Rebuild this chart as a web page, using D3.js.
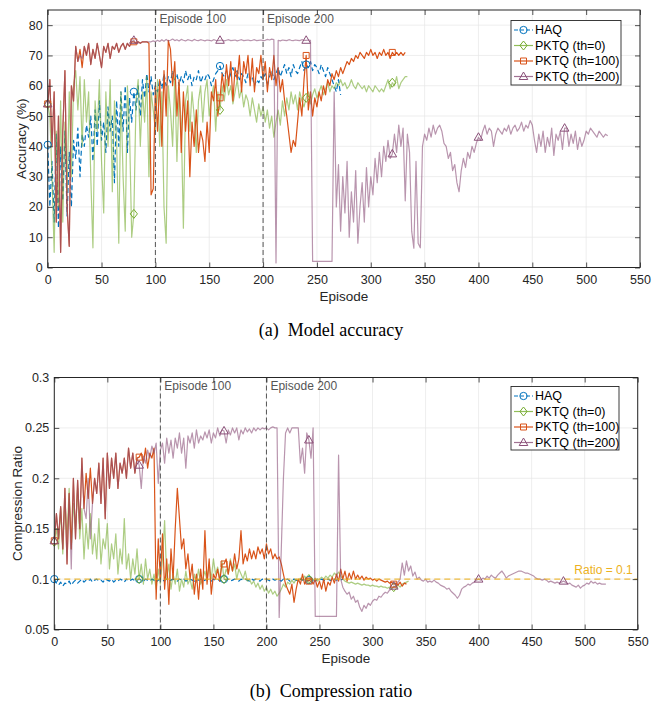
<!DOCTYPE html>
<html><head><meta charset="utf-8">
<script src="https://cdn.jsdelivr.net/npm/d3@7/dist/d3.min.js"></script>
<style>
body{margin:0;background:#fff}
svg{display:block}
</style>
</head><body>
<svg id="c" width="662" height="705"></svg>
<script>
// ---------------- data ----------------
const episodeStep = 2;           // each value below is one point every 2 episodes, starting at episode 0
const markerEvery = 80;          // marker every 80 episodes
const xTicks = [0,50,100,150,200,250,300,350,400,450,500,550];
const accTicks = [0,10,20,30,40,50,60,70,80];
const ratioTicks = [0.05,0.1,0.15,0.2,0.25,0.3];
const seriesNames = ["HAQ","PKTQ (th=0)","PKTQ (th=100)","PKTQ (th=200)"];
const markerEpisodes = [100,200];
const ratioTarget = 0.1;

// Accuracy (%)
const accHAQ = [
40.5,20,35,15,44,13,40,22,45,17,
38,20,42,36,46,30,44,40,47,43,
50,35,52,40,55,42,48,38,53,45,
50,28,55,40,58,45,60,38,56,48,
58,52,60,50,62,56,64,58,63,57,
60,58,62,59,64,60,63,61,65,62,
64,60,63,61,65,62,64,60,63,62,
65,61,63,62,64,63,60,62,64,65,
66.5,64,63,65,62,64,66,63,65,62,
64,63,61,64,62,63,60,62,61,63,
62,64,60,63,65,62,64,66,63,65,
67,64,66,63,67,65,64,66,68,65,
67,66,68,65,67,66,64,67,65,63,
66,64,62,60,58,62,57];
const accTh0 = [
54,50,30,5,45,20,55,15,48,25,
58,30,60,65,52,63,40,62,48,58,
30,6.5,55,45,62,35,18,58,40,62,
25,55,42,8,58,30,12,60,45,10,
17.7,55,62,40,58,48,63,30,58,52,
45,62,40,58,20,8,60,52,40,63,
35,58,48,13,55,60,45,58,50,38,
55,60,48,58,62,50,56,60,45,58,
52,60,55,62,57,60,54,58,62,56,
59,53,57,55,50,56,52,48,54,50,
53,48,52,46,50,43,48,52,47,55,
50,56,52,58,54,57,52,58,55,53,
56,58,54,57,59,56,58,60,57,59,
61,58,60,59,61,60,62,60,61,59,
60,62,60,59,61,60,59,60,58,60,
59,58,60,59,58,59,58,60,62,59,
61,60,63,59,61,62,63,63];
const accTh100 = [
54,62,40,58,15,50,5,45,65,20,
7,60,55,73,68,72,66,73,70,74,
67,72,69,74,70,66,73,71,74,69,
73,72,74,71,73,74,72,74,73,74.5,
74.5,74,74.5,74,74.5,74.5,74.5,74,24,26,
60,45,62,40,65,50,75,72,60,68,
50,62,38,58,45,55,30,48,40,52,
38,45,42,35,48,38,58,55,62,50,
56,64,58,67,60,68,55,66,62,70,
58,68,64,70,60,69,58,66,64,70,
62,68,58,66,62,70,60,66,58,62,
55,50,44,38,42,40,48,56,50,62,
70,52,58,50,56,53,58,55,60,57,
62,60,64,62,65,63,66,64,66,68,
67,69,68,70,69,71,70,69,71,70,
72,70,71,69,71,70,72,70,71,69,
71,70,71,70,71,70,71];
const accTh200 = [
54,62,40,58,15,50,5,45,65,20,
7,60,55,73,68,70,69,73,70,74,
67,72,69,74,70,66,73,71,74,69,
73,72,74,71,73,74,72,74,73,74.5,
75,74,74.5,74,74.5,74.5,74.5,74.5,74.5,74.8,
74.5,75,74.6,75.2,74.7,75.3,74.8,75,75.4,74.9,
75.2,74.8,75.3,75,74.8,75.2,75,74.8,75.3,75,
74.9,75.2,75,74.8,75.1,75,74.8,75.2,75,74.9,
75,75.1,74.8,75,75.2,74.9,75,75.1,74.8,75,
75.2,74.9,75,75.1,74.9,75,75.2,74.9,75,75.1,
74.9,75,75.3,75.1,75.4,75.2,1.5,75,74.8,75.1,
75,74.9,75.2,75,74.9,75.1,75,74.9,75.2,75,
75,75.1,75,2,2,2,2,2,2,2,
2,2,2,58,20,34,12,30,18,35,
10,25,15,32,8,20,28,15,33,20,
30,24,36,28,38,30,40,35,42,36,
37.5,44,38,47,40,46,22,44,38,12,
6.4,35,8,6.5,40,44,42,46,43,47,
44,46,47,45,41,40,36,38,32,34,
28,25,32,36,33,38,36,40,38,41,
43,42,45,47,44,46,45,40,44,46,
45,44,46,45,47,44,46,47,45,46,
48,45,47,46,48.5,47,42,38,44,40,
45,38,43,40,46,37,44,42,45,39,
46,46,40,44,41,45,39,43,40,42,
45,44,46,45,44,43,45,44,43,44,
43.5];

// Compression ratio
const ratioHAQ = [
0.1,0.096,0.094,0.097,0.093,0.096,0.095,0.098,0.094,0.097,
0.099,0.096,0.098,0.1,0.097,0.099,0.098,0.1,0.097,0.099,
0.1,0.098,0.099,0.097,0.1,0.099,0.098,0.1,0.097,0.099,
0.098,0.1,0.099,0.097,0.1,0.098,0.099,0.1,0.098,0.099,
0.1,0.099,0.098,0.1,0.099,0.098,0.1,0.099,0.097,0.099,
0.1,0.098,0.099,0.1,0.098,0.099,0.1,0.099,0.098,0.1,
0.099,0.1,0.098,0.099,0.1,0.099,0.098,0.1,0.099,0.1,
0.098,0.099,0.1,0.099,0.098,0.1,0.099,0.1,0.098,0.099,
0.1,0.099,0.1,0.098,0.099,0.1,0.099,0.098,0.1,0.099,
0.1,0.099,0.098,0.1,0.099,0.1,0.099,0.098,0.1,0.099,
0.1,0.099,0.098,0.1,0.099,0.1,0.099,0.098,0.1,0.099,
0.1,0.098,0.099,0.1,0.099,0.098,0.1,0.099,0.1,0.098,
0.099,0.1,0.099,0.098,0.1,0.099,0.1,0.099,0.098,0.1,
0.099,0.098,0.1,0.099,0.1,0.099,0.1];
const ratioTh0 = [
0.137,0.15,0.13,0.17,0.125,0.18,0.14,0.19,0.13,0.175,
0.15,0.19,0.14,0.17,0.12,0.155,0.13,0.165,0.125,0.145,
0.12,0.16,0.115,0.14,0.13,0.155,0.11,0.135,0.12,0.145,
0.105,0.13,0.115,0.16,0.11,0.125,0.1,0.12,0.105,0.13,
0.1,0.115,0.095,0.12,0.1,0.11,0.095,0.105,0.09,0.11,
0.095,0.12,0.158,0.1,0.115,0.09,0.105,0.095,0.11,0.088,
0.1,0.092,0.108,0.095,0.1,0.09,0.105,0.097,0.11,0.095,
0.1,0.108,0.098,0.115,0.1,0.12,0.105,0.112,0.1,0.118,
0.1,0.11,0.105,0.12,0.108,0.115,0.1,0.11,0.105,0.1,
0.108,0.098,0.1,0.095,0.098,0.092,0.096,0.09,0.094,0.088,
0.092,0.086,0.09,0.085,0.088,0.083,0.086,0.09,0.095,0.092,
0.097,0.095,0.099,0.096,0.1,0.098,0.101,0.099,0.103,0.1,
0.1,0.102,0.099,0.101,0.098,0.1,0.102,0.1,0.103,0.101,
0.104,0.102,0.106,0.104,0.107,0.103,0.1,0.098,0.097,0.096,
0.097,0.096,0.095,0.096,0.095,0.094,0.095,0.094,0.094,0.093,
0.094,0.093,0.093,0.092,0.093,0.092,0.092,0.091,0.092,0.091,
0.092,0.093,0.094,0.092,0.095,0.096,0.097,0.098];
const ratioTh100 = [
0.138,0.165,0.14,0.172,0.13,0.19,0.115,0.185,0.13,0.2,
0.14,0.198,0.15,0.22,0.17,0.205,0.18,0.21,0.175,0.2,
0.185,0.215,0.175,0.22,0.16,0.225,0.19,0.22,0.2,0.225,
0.19,0.215,0.205,0.22,0.2,0.23,0.21,0.225,0.205,0.22,
0.221,0.225,0.215,0.23,0.21,0.225,0.22,0.23,0.08,0.14,
0.1,0.145,0.09,0.12,0.075,0.13,0.1,0.15,0.19,0.16,
0.13,0.14,0.11,0.125,0.1,0.115,0.085,0.105,0.08,0.11,
0.09,0.148,0.095,0.12,0.085,0.105,0.1,0.11,0.098,0.115,
0.115,0.12,0.105,0.118,0.108,0.125,0.11,0.12,0.148,0.115,
0.125,0.118,0.13,0.12,0.128,0.12,0.132,0.125,0.13,0.12,
0.135,0.125,0.13,0.12,0.125,0.12,0.122,0.115,0.105,0.095,
0.09,0.085,0.095,0.077,0.09,0.1,0.095,0.105,0.095,0.1,
0.098,0.1,0.095,0.1,0.092,0.098,0.09,0.1,0.088,0.097,
0.094,0.102,0.096,0.105,0.098,0.11,0.1,0.108,0.098,0.106,
0.1,0.108,0.1,0.104,0.1,0.103,0.099,0.102,0.1,0.101,
0.099,0.1,0.098,0.1,0.099,0.098,0.097,0.098,0.096,0.097,
0.095,0.096,0.094,0.097,0.093,0.096,0.095];
const ratioTh200 = [
0.138,0.165,0.14,0.172,0.13,0.19,0.115,0.185,0.11,0.2,
0.14,0.198,0.15,0.22,0.17,0.16,0.2,0.14,0.175,0.2,
0.185,0.215,0.175,0.22,0.16,0.225,0.19,0.22,0.2,0.225,
0.19,0.215,0.205,0.22,0.2,0.23,0.21,0.225,0.205,0.22,
0.213,0.19,0.222,0.215,0.228,0.22,0.232,0.225,0.235,0.195,
0.228,0.235,0.215,0.24,0.225,0.238,0.22,0.24,0.23,0.245,
0.225,0.24,0.21,0.242,0.235,0.245,0.23,0.248,0.235,0.242,
0.238,0.246,0.24,0.248,0.235,0.245,0.24,0.25,0.242,0.248,
0.247,0.235,0.248,0.243,0.25,0.245,0.25,0.238,0.248,0.244,
0.25,0.246,0.249,0.245,0.25,0.247,0.25,0.248,0.25,0.249,
0.25,0.248,0.25,0.251,0.25,0.25,0.062,0.13,0.2,0.245,
0.25,0.245,0.25,0.25,0.25,0.25,0.215,0.23,0.205,0.245,
0.238,0.22,0.25,0.063,0.063,0.063,0.063,0.063,0.063,0.063,
0.063,0.063,0.063,0.063,0.223,0.1,0.092,0.088,0.085,0.087,
0.08,0.083,0.077,0.079,0.072,0.068,0.074,0.071,0.076,0.074,
0.078,0.08,0.079,0.083,0.082,0.085,0.087,0.086,0.089,0.09,
0.093,0.092,0.097,0.1,0.116,0.104,0.118,0.108,0.113,0.103,
0.107,0.1,0.102,0.099,0.098,0.1,0.097,0.098,0.097,0.099,
0.097,0.096,0.094,0.093,0.092,0.09,0.091,0.088,0.086,0.084,
0.081,0.084,0.09,0.092,0.093,0.095,0.094,0.096,0.097,0.099,
0.1,0.099,0.101,0.1,0.103,0.101,0.104,0.102,0.101,0.104,
0.106,0.108,0.105,0.101,0.103,0.104,0.105,0.106,0.107,0.108,
0.108,0.107,0.106,0.106,0.105,0.104,0.103,0.101,0.1,0.1,
0.099,0.1,0.099,0.097,0.098,0.097,0.096,0.097,0.096,0.097,
0.098,0.097,0.095,0.096,0.094,0.093,0.092,0.094,0.091,0.093,
0.094,0.096,0.095,0.098,0.096,0.097,0.095,0.096,0.095,0.095,
0.095];

// ---------------- styles ----------------
const SANS = '"Liberation Sans",Arial,Helvetica,sans-serif';
const SERIF = '"Liberation Serif","Times New Roman",serif';
const styles = [
  {color:"#0072BD", mcolor:"#0072BD", opacity:1,   dash:"5,3", marker:"circle"},
  {color:"#77AC30", mcolor:"#77AC30", opacity:0.6, dash:null,  marker:"diamond"},
  {color:"#D95319", mcolor:"#D95319", opacity:1,   dash:null,  marker:"square"},
  {color:"#8a4f78", mcolor:"#8a4f78", opacity:0.6, dash:null,  marker:"triangle"}
];

const svg = d3.select("#c");

function markerPath(type){
  if(type==="circle") return d3.symbol().type(d3.symbolCircle).size(42)();
  if(type==="square") return "M-3,-3H3V3H-3Z";
  if(type==="diamond") return "M0,-4.5L3.6,0L0,4.5L-3.6,0Z";
  return "M0,-4.5L4.3,3L-4.3,3Z";
}

function panel(cfg){
  const x = d3.scaleLinear().domain([0,550]).range([cfg.left,cfg.right]);
  const y = d3.scaleLinear().domain(cfg.yDomain).range([cfg.bottom,cfg.top]);
  const g = svg.append("g");

  // grid
  g.append("g").selectAll("line").data(xTicks).join("line")
    .attr("x1",d=>x(d)).attr("x2",d=>x(d)).attr("y1",cfg.top).attr("y2",cfg.bottom)
    .attr("stroke","#e6e6e6").attr("stroke-width",0.7);
  g.append("g").selectAll("line").data(cfg.yTicks).join("line")
    .attr("y1",d=>y(d)).attr("y2",d=>y(d)).attr("x1",cfg.left).attr("x2",cfg.right)
    .attr("stroke","#e6e6e6").attr("stroke-width",0.7);

  const clip = "clip"+cfg.id;
  svg.append("clipPath").attr("id",clip).append("rect")
    .attr("x",cfg.left).attr("y",cfg.top).attr("width",cfg.right-cfg.left).attr("height",cfg.bottom-cfg.top);
  const plot = g.append("g").attr("clip-path",`url(#${clip})`);

  const line = d3.line().x((d,i)=>x(i*episodeStep)).y(d=>y(d));
  cfg.series.forEach((vals,k)=>{
    const s = styles[k];
    plot.append("path").datum(vals).attr("d",line)
      .attr("fill","none").attr("stroke",s.color).attr("stroke-opacity",s.opacity)
      .attr("stroke-width",1.2).attr("stroke-linejoin","round")
      .attr("stroke-dasharray",s.dash);
  });

  // target ratio line
  if(cfg.target!==undefined){
    g.append("line").attr("x1",cfg.left).attr("x2",cfg.right)
      .attr("y1",y(cfg.target)).attr("y2",y(cfg.target))
      .attr("stroke","#EDB120").attr("stroke-opacity",0.85).attr("stroke-width",1.2).attr("stroke-dasharray","6,4");
    g.append("text").attr("x",cfg.right-5).attr("y",y(cfg.target)-5).attr("text-anchor","end")
      .style("font-family",SANS).attr("font-size",12).attr("fill","#EDB120").text("Ratio = 0.1");
  }

  // markers (not clipped, like MATLAB)
  cfg.series.forEach((vals,k)=>{
    const s = styles[k];
    const pts = vals.map((v,i)=>[i*episodeStep,v]).filter(p=>p[0]%markerEvery===0);
    g.append("g").selectAll("path").data(pts).join("path")
      .attr("d",markerPath(s.marker))
      .attr("transform",p=>`translate(${x(p[0])},${y(p[1])})`)
      .attr("fill","none").attr("stroke",s.mcolor).attr("stroke-width",1);
  });

  // episode marker lines
  markerEpisodes.forEach(e=>{
    g.append("line").attr("x1",x(e)).attr("x2",x(e)).attr("y1",cfg.top).attr("y2",cfg.bottom)
      .attr("stroke","#555").attr("stroke-width",1).attr("stroke-dasharray","5,3");
    g.append("text").attr("x",x(e)+4).attr("y",cfg.top+12.5).style("font-family",SANS)
      .attr("font-size",12).attr("fill","#555").text("Episode "+e);
  });

  // axes (ticks inward on all four sides)
  const axB = d3.axisBottom(x).tickValues(xTicks).tickSizeInner(-5).tickSizeOuter(0).tickPadding(8);
  const axT = d3.axisTop(x).tickValues(xTicks).tickSizeInner(-5).tickSizeOuter(0).tickFormat("");
  const axL = d3.axisLeft(y).tickValues(cfg.yTicks).tickSizeInner(-5).tickSizeOuter(0).tickPadding(5).tickFormat(cfg.fmt);
  const axR = d3.axisRight(y).tickValues(cfg.yTicks).tickSizeInner(-5).tickSizeOuter(0).tickFormat("");
  [[axB,`translate(0,${cfg.bottom})`],[axT,`translate(0,${cfg.top})`],
   [axL,`translate(${cfg.left},0)`],[axR,`translate(${cfg.right},0)`]].forEach(([a,t])=>{
    const ag = g.append("g").attr("transform",t).call(a);
    ag.select(".domain").remove();
    ag.selectAll("line").attr("stroke","#262626").attr("stroke-width",0.8);
    ag.selectAll("text").attr("font-size",12.5).attr("fill","#262626").style("font-family",SANS);
  });
  g.append("rect").attr("x",cfg.left).attr("y",cfg.top).attr("width",cfg.right-cfg.left).attr("height",cfg.bottom-cfg.top)
    .attr("fill","none").attr("stroke","#262626").attr("stroke-width",1);

  // labels
  g.append("text").attr("x",(cfg.left+cfg.right)/2).attr("y",cfg.bottom+33).attr("text-anchor","middle")
    .style("font-family",SANS).attr("font-size",13.5).attr("fill","#262626").text("Episode");
  g.append("text").attr("transform",`translate(${cfg.ylabX},${(cfg.top+cfg.bottom)/2}) rotate(-90)`)
    .attr("text-anchor","middle").attr("dominant-baseline","central").style("font-family",SANS)
    .attr("font-size",13.5).attr("fill","#262626").text(cfg.ylabel);

  // legend
  const L = cfg.legend;
  const lg = g.append("g");
  lg.append("rect").attr("x",L.x).attr("y",L.y).attr("width",L.w).attr("height",L.h)
    .attr("fill","#fff").attr("stroke","#262626").attr("stroke-width",0.9);
  seriesNames.forEach((name,k)=>{
    const s = styles[k];
    const yy = L.y + 9.5 + k*15.5;
    lg.append("line").attr("x1",L.x+3).attr("x2",L.x+22).attr("y1",yy).attr("y2",yy)
      .attr("stroke",s.color).attr("stroke-opacity",Math.min(1,s.opacity+0.2)).attr("stroke-width",1.2)
      .attr("stroke-dasharray",s.dash?"4,2":null);
    lg.append("path").attr("d",markerPath(s.marker)).attr("transform",`translate(${L.x+12.5},${yy})`)
      .attr("fill","none").attr("stroke",s.mcolor).attr("stroke-width",1);
    lg.append("text").attr("x",L.x+24).attr("y",yy).attr("dominant-baseline","central")
      .style("font-family",SANS).attr("font-size",12.5).attr("fill","#000").text(name);
  });

  // caption
  g.append("text").attr("x",331).attr("y",cfg.capY).attr("text-anchor","middle")
    .style("font-family",SERIF).attr("font-size",18)
    .attr("fill","#000").style("white-space","pre").text(cfg.caption);
}

panel({id:"a", left:47.7, right:640, top:10, bottom:267.5, yDomain:[0,85], yTicks:accTicks,
  fmt:d3.format("d"), ylabel:"Accuracy (%)", ylabX:21,
  series:[accHAQ,accTh0,accTh100,accTh200],
  legend:{x:511,y:20.5,w:110,h:64.5}, caption:"(a)  Model accuracy", capY:336});

panel({id:"b", left:54.3, right:637.7, top:377.5, bottom:629.5, yDomain:[0.05,0.3], yTicks:ratioTicks,
  fmt:d=>d3.format("")(+d.toFixed(2)), ylabel:"Compression Ratio", ylabX:17,
  series:[ratioHAQ,ratioTh0,ratioTh100,ratioTh200], target:ratioTarget,
  legend:{x:511,y:386.5,w:108,h:63.5}, caption:"(b)  Compression ratio", capY:697});
</script>
</body></html>
